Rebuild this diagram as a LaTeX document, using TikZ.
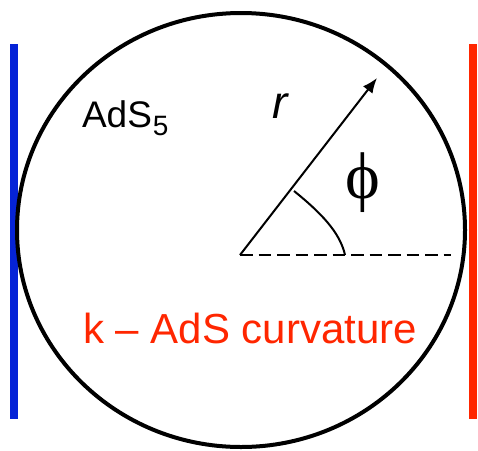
\documentclass[tikz,border=0pt]{standalone}
\usepackage{fontspec}
\setmainfont{Liberation Sans}
\newfontfamily\serifphi{Liberation Serif}
\usetikzlibrary{arrows.meta}
\definecolor{adsblue}{RGB}{5,35,215}
\definecolor{adsred}{RGB}{255,38,0}
\tikzset{
  wall/.style={line width=8pt, line cap=butt},
  thin/.style={line width=2pt},
  lbl/.style={inner sep=0pt, outer sep=0pt, anchor=base west},
}
\begin{document}
\begin{tikzpicture}[x=1pt,y=-1pt]
\useasboundingbox (0,0) rectangle (478,450);
% walls
\coordinate (bt) at (14,44); \coordinate (bb) at (14,419);
\coordinate (rt) at (473,44); \coordinate (rb) at (473,419);
\draw[wall, adsblue] (bt) -- (bb);
\draw[wall, adsred] (rt) -- (rb);
% AdS disc
\coordinate (C) at (241,230);
\draw[line width=4pt] (C) ellipse [x radius=224, y radius=217];
% radius arrow, dashed axis, angle arc
\coordinate (O) at (240,255);
\coordinate (tip) at (377,78);
\coordinate (axend) at (451,255);
\coordinate (a1) at (294,191);
\coordinate (a2) at (345,255);
\draw[thin, -{Latex[length=15pt,width=12pt]}] (O) -- (tip);
\draw[thin, dash pattern=on 12.5pt off 6pt] (O) -- (axend);
\draw[thin] (a1) .. controls (320,212) and (340,232) .. (a2);
% labels
\node[lbl] (ads) at (82,127) {\fontsize{37}{40}\selectfont AdS\kern1pt\raisebox{-8pt}{\fontsize{28}{30}\selectfont 5}};
\node[lbl] (r) at (272,118) {\fontsize{46}{50}\selectfont\itshape r};
\node[inner sep=0pt] (phi) at (362.5,182.5) {\serifphi\fontsize{66}{68}\selectfont ϕ};
\node[lbl, text=adsred] (curv) at (83,343) {\fontsize{42}{46}\selectfont k – AdS curvature};
\end{tikzpicture}
\end{document}
